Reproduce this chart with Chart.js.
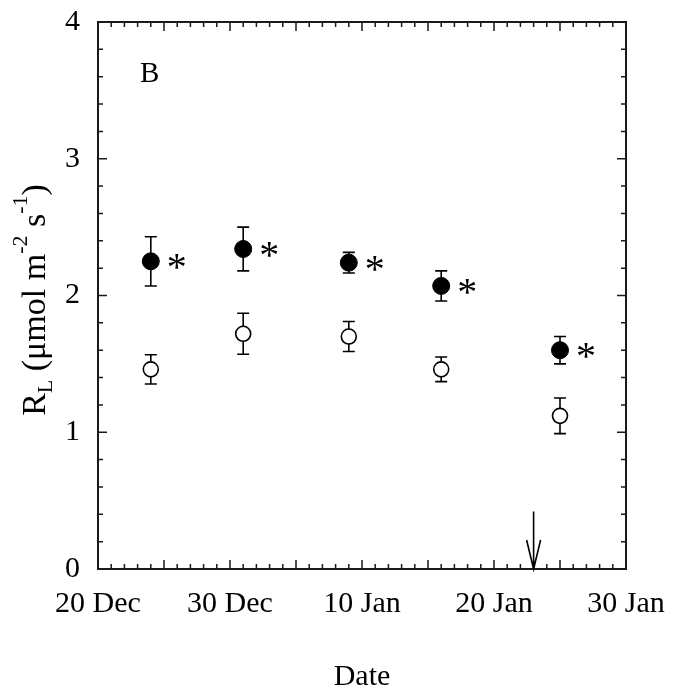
<!DOCTYPE html>
<html>
<head>
<meta charset="utf-8">
<title>RL by date</title>
<script src="https://cdn.jsdelivr.net/npm/chart.js@4.4.1/dist/chart.umd.min.js"></script>
<style>
  body { margin: 0; background: #fff; }
  canvas { display: block; }
</style>
</head>
<body>
<canvas id="myChart" width="679" height="692"></canvas>
<script>
// x = days after 20 Dec (axis is labelled every 10 days)
const sampleDays = [4, 11, 19, 26, 35];
const filledValues = [2.25, 2.34, 2.24, 2.07, 1.60];
const filledErrors = [0.18, 0.16, 0.075, 0.11, 0.10];
const openValues = [1.46, 1.72, 1.70, 1.46, 1.12];
const openErrors = [0.107, 0.15, 0.11, 0.09, 0.13];
const significant = [true, true, true, true, true];
const xTickLabels = ['20 Dec', '30 Dec', '10 Jan', '20 Jan', '30 Jan'];
const yTickLabels = ['0', '1', '2', '3', '4'];
const arrowDay = 33;

const serif = "'Liberation Serif', 'Times New Roman', serif";

function toPoints(values, errors) {
  return sampleDays.map((d, i) => ({ x: d, y: values[i], err: errors[i] }));
}

// rotated y title with sub/superscripts
function drawYTitle(ctx, cx, cy) {
  const parts = [
    { t: 'R', size: 34, shift: 0 },
    { t: 'L', size: 22, shift: 7 },
    { t: ' (\u03bcmol m', size: 34, shift: 0 },
    { t: '-2', size: 22, shift: -18 },
    { t: ' s', size: 34, shift: 0 },
    { t: '-1', size: 22, shift: -18 },
    { t: ')', size: 34, shift: 0 }
  ];
  let total = 0;
  parts.forEach(p => {
    ctx.font = p.size + 'px ' + serif;
    p.w = ctx.measureText(p.t).width;
    total += p.w;
  });
  ctx.save();
  ctx.translate(cx, cy);
  ctx.rotate(-Math.PI / 2);
  ctx.textBaseline = 'alphabetic';
  ctx.textAlign = 'left';
  ctx.fillStyle = '#000';
  let pos = -total / 2;
  parts.forEach(p => {
    ctx.font = p.size + 'px ' + serif;
    ctx.fillText(p.t, pos, p.shift);
    pos += p.w;
  });
  ctx.restore();
}

const extras = {
  id: 'extras',
  beforeDatasetsDraw(chart) {
    const { ctx, scales: { x, y } } = chart;
    ctx.save();
    ctx.strokeStyle = '#000';
    ctx.lineWidth = 1.6;
    chart.data.datasets.forEach(ds => {
      ds.data.forEach(p => {
        const px = x.getPixelForValue(p.x);
        const top = y.getPixelForValue(p.y + p.err);
        const bot = y.getPixelForValue(p.y - p.err);
        ctx.beginPath();
        ctx.moveTo(px, top); ctx.lineTo(px, bot);
        ctx.moveTo(px - 6, top); ctx.lineTo(px + 6, top);
        ctx.moveTo(px - 6, bot); ctx.lineTo(px + 6, bot);
        ctx.stroke();
      });
    });
    ctx.restore();
  },
  afterDraw(chart) {
    const { ctx, chartArea: a, scales: { x, y } } = chart;
    ctx.save();
    ctx.strokeStyle = '#1a1a1a';

    // ticks on all four sides, pointing inwards
    ctx.lineWidth = 1.5;
    ctx.beginPath();
    for (let d = 0; d <= 40; d++) {
      const px = x.getPixelForValue(d);
      const len = d % 5 === 0 ? 9 : 5;
      ctx.moveTo(px, a.bottom); ctx.lineTo(px, a.bottom - len);
      ctx.moveTo(px, a.top); ctx.lineTo(px, a.top + len);
    }
    for (let k = 0; k <= 20; k++) {
      const py = y.getPixelForValue(k * 0.2);
      const len = k % 5 === 0 ? 9 : 5;
      ctx.moveTo(a.left, py); ctx.lineTo(a.left + len, py);
      ctx.moveTo(a.right, py); ctx.lineTo(a.right - len, py);
    }
    ctx.stroke();

    // frame
    ctx.lineWidth = 2;
    ctx.strokeRect(a.left, a.top, a.right - a.left, a.bottom - a.top);

    // asterisks next to the filled points
    ctx.fillStyle = '#000';
    ctx.font = '40px ' + serif;
    ctx.textAlign = 'center';
    ctx.textBaseline = 'alphabetic';
    sampleDays.forEach((d, i) => {
      if (!significant[i]) return;
      const px = x.getPixelForValue(d);
      const py = y.getPixelForValue(filledValues[i]);
      ctx.fillText('*', px + 26, py + 19);
    });

    // arrow
    const ax = x.getPixelForValue(arrowDay);
    const ay0 = y.getPixelForValue(0.42);
    const ay1 = y.getPixelForValue(0);
    ctx.strokeStyle = '#000';
    ctx.lineWidth = 1.6;
    ctx.beginPath();
    ctx.moveTo(ax, ay0); ctx.lineTo(ax, ay1);
    ctx.moveTo(ax - 7, ay1 - 29); ctx.lineTo(ax, ay1); ctx.lineTo(ax + 7, ay1 - 29);
    ctx.stroke();

    // panel letter
    ctx.textAlign = 'left';
    ctx.font = '29px ' + serif;
    ctx.fillText('B', 140, 82);

    drawYTitle(ctx, 45, 300);
    ctx.restore();
  }
};

const ctx = document.getElementById('myChart');
new Chart(ctx, {
  type: 'scatter',
  data: {
    datasets: [{
      label: 'filled',
      data: toPoints(filledValues, filledErrors),
      pointRadius: 8.5,
      pointBackgroundColor: '#000',
      pointBorderColor: '#000',
      pointBorderWidth: 1
    }, {
      label: 'open',
      data: toPoints(openValues, openErrors),
      pointRadius: 7.5,
      pointBackgroundColor: '#fff',
      pointBorderColor: '#000',
      pointBorderWidth: 1.6
    }]
  },
  options: {
    responsive: false,
    animation: false,
    devicePixelRatio: 1,
    layout: { padding: { left: 0, right: 53, top: 22, bottom: 0 } },
    plugins: { legend: { display: false }, tooltip: { enabled: false } },
    scales: {
      x: {
        type: 'linear',
        min: 0,
        max: 40,
        afterFit(s) { s.height = 123; s.paddingLeft = 0; s.paddingRight = 0; },
        grid: { display: false, drawTicks: false },
        border: { display: false },
        ticks: {
          stepSize: 10,
          padding: 17,
          maxRotation: 0,
          autoSkip: false,
          color: '#000',
          font: { family: serif, size: 30 },
          callback: v => xTickLabels[v / 10] ?? ''
        },
        title: {
          display: true,
          text: 'Date',
          color: '#000',
          font: { family: serif, size: 30, lineHeight: 1 },
          padding: { top: 0, bottom: 0 }
        }
      },
      y: {
        min: 0,
        max: 4,
        afterFit(s) { s.width = 98; s.paddingTop = 0; s.paddingBottom = 0; },
        grid: { display: false, drawTicks: false },
        border: { display: false },
        ticks: {
          stepSize: 1,
          padding: 18,
          color: '#000',
          font: { family: serif, size: 30 },
          callback: v => yTickLabels[v] ?? ''
        }
      }
    }
  },
  plugins: [extras]
});
</script>
</body>
</html>
